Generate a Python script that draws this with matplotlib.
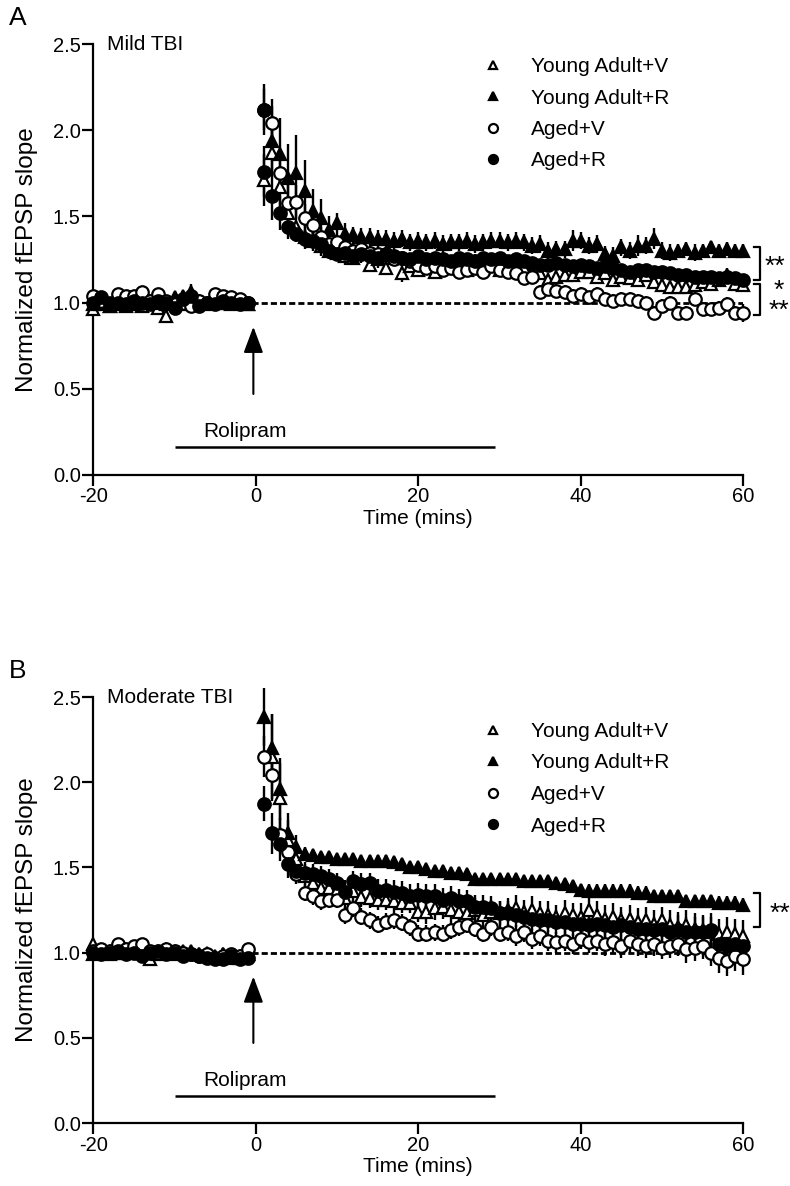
import matplotlib
matplotlib.use("Agg")
import matplotlib.pyplot as plt
from matplotlib.lines import Line2D

plt.rcParams["font.family"] = ["Liberation Sans", "DejaVu Sans"]
plt.rcParams["axes.unicode_minus"] = False

nan = float("nan")

# sampling times (min); baseline then post-tetanus
t_base = list(range(-20, 0))
t_post = list(range(1, 61))
t_all = t_base + t_post

labels = ["Young Adult+V", "Young Adult+R", "Aged+V", "Aged+R"]

# ---------------- Panel A: mild TBI ----------------
a_yav = [0.96, 0.99, 0.98, 0.99, 0.98, 0.99, 0.98, 1.00, 0.97, 0.92,
         1.00, 0.99, 1.01, 1.00, 0.99, 1.00, 1.00, 0.99, 1.00, 0.99,
         1.71, 1.87, 1.67, 1.52, 1.44, 1.38, 1.36, 1.33, 1.30, 1.29,
         1.27, 1.26, 1.28, 1.22, 1.25, 1.20, 1.26, 1.17, 1.21, 1.19,
         1.22, 1.18, 1.22, 1.20, 1.21, 1.19, 1.23, 1.20, 1.22, 1.19,
         1.21, 1.24, 1.20, 1.18, 1.17, 1.13, 1.15, 1.16, 1.16, 1.18,
         1.18, 1.15, 1.17, 1.13, 1.15, 1.14, 1.13, 1.16, 1.12, 1.10,
         1.09, 1.09, 1.09, 1.10, 1.12, 1.11, 1.13, 1.16, 1.11, 1.10]
a_yar = [0.99, 1.00, 0.98, 0.99, 1.00, 0.99, 1.00, 1.01, 1.00, 0.99,
         1.03, 1.04, 1.06, 1.01, 1.00, 1.02, 1.03, 1.02, 1.00, 0.99,
         nan, 1.94, 1.86, 1.72, 1.75, 1.65, 1.53, 1.49, 1.42, 1.46,
         1.40, 1.39, 1.38, 1.38, 1.37, 1.37, 1.36, 1.37, 1.35, 1.36,
         1.35, 1.36, 1.34, 1.35, 1.35, 1.36, 1.34, 1.35, 1.36, 1.36,
         1.35, 1.36, 1.35, 1.33, 1.34, 1.30, 1.31, 1.31, 1.36, 1.36,
         1.33, 1.34, 1.28, 1.27, 1.32, 1.30, 1.33, 1.33, 1.37, 1.30,
         1.29, 1.30, 1.31, 1.29, 1.30, 1.32, 1.30, 1.31, 1.30, 1.30]
a_agv = [1.04, 1.01, 1.00, 1.05, 1.04, 1.04, 1.06, 1.01, 1.05, 1.01,
         0.99, 1.00, 0.98, 1.01, 1.00, 1.05, 1.04, 1.03, 1.02, 1.00,
         2.12, 2.04, 1.75, 1.58, 1.585, 1.49, 1.45, 1.38, 1.34, 1.35,
         1.32, 1.30, 1.31, 1.29, 1.28, 1.28, 1.25, 1.26, 1.24, 1.22,
         1.20, 1.21, 1.19, 1.20, 1.18, 1.19, 1.20, 1.18, 1.21, 1.19,
         1.18, 1.17, 1.14, 1.15, 1.06, 1.08, 1.07, 1.06, 1.04, 1.05,
         1.03, 1.05, 1.02, 1.01, 1.02, 1.02, 1.01, 1.00, 0.94, 0.98,
         1.00, 0.94, 0.94, 1.02, 0.96, 0.96, 0.97, 0.99, 0.94, 0.94]
# Aged+R has two points plotted at t = 1
a_t_agr = t_base + [1] + t_post
a_agr = [1.00, 1.03, 0.99, 1.00, 0.99, 1.01, 1.00, 0.99, 1.01, 1.00,
         0.97, 1.02, 1.04, 0.98, 1.00, 0.99, 1.01, 1.00, 0.99, 1.00,
         2.12,
         1.76, 1.62, 1.52, 1.44, 1.40, 1.37, 1.36, 1.34, 1.30, 1.28,
         1.29, 1.27, 1.28, 1.27, 1.26, 1.28, 1.27, 1.26, 1.25, 1.27,
         1.25, 1.26, 1.25, 1.24, 1.26, 1.25, 1.24, 1.26, 1.25, 1.26,
         1.24, 1.25, 1.24, 1.23, 1.22, 1.22, 1.23, 1.22, 1.21, 1.22,
         1.21, 1.20, 1.21, 1.20, 1.19, 1.18, 1.19, 1.19, 1.18, 1.18,
         1.17, 1.16, 1.16, 1.15, 1.15, 1.15, 1.14, 1.15, 1.14, 1.13]

a_yav_err = [0.03, 0.02, 0.02, 0.03, 0.02, 0.02, 0.03, 0.02, 0.03, 0.04,
             0.02, 0.02, 0.03, 0.02, 0.02, 0.02, 0.03, 0.02, 0.02, 0.02,
             0.15, 0.14, 0.12, 0.10, 0.09, 0.07, 0.06, 0.06, 0.05, 0.05,
             0.05, 0.04, 0.05, 0.04, 0.05, 0.04, 0.05, 0.05, 0.04, 0.04,
             0.04, 0.04, 0.05, 0.04, 0.04, 0.04, 0.05, 0.04, 0.04, 0.04,
             0.04, 0.05, 0.04, 0.04, 0.04, 0.04, 0.04, 0.04, 0.04, 0.04,
             0.04, 0.04, 0.04, 0.04, 0.04, 0.04, 0.04, 0.04, 0.03, 0.03,
             0.03, 0.03, 0.03, 0.03, 0.03, 0.04, 0.03, 0.04, 0.03, 0.03]
a_yar_err = [0.02, 0.02, 0.02, 0.02, 0.02, 0.02, 0.02, 0.03, 0.02, 0.02,
             0.03, 0.03, 0.05, 0.03, 0.02, 0.03, 0.03, 0.02, 0.02, 0.02,
             0.00, 0.20, 0.21, 0.20, 0.22, 0.18, 0.13, 0.11, 0.08, 0.06,
             0.06, 0.05, 0.05, 0.05, 0.05, 0.05, 0.05, 0.05, 0.05, 0.05,
             0.05, 0.05, 0.05, 0.05, 0.05, 0.05, 0.05, 0.05, 0.05, 0.05,
             0.05, 0.05, 0.05, 0.05, 0.05, 0.05, 0.05, 0.05, 0.06, 0.05,
             0.05, 0.05, 0.05, 0.05, 0.05, 0.05, 0.06, 0.05, 0.06, 0.05,
             0.05, 0.04, 0.04, 0.05, 0.04, 0.04, 0.04, 0.04, 0.04, 0.04]
a_agv_err = [0.02, 0.02, 0.02, 0.02, 0.02, 0.02, 0.02, 0.02, 0.02, 0.02,
             0.02, 0.02, 0.03, 0.02, 0.02, 0.02, 0.02, 0.02, 0.02, 0.02,
             0.12, 0.14, 0.12, 0.10, 0.10, 0.08, 0.07, 0.06, 0.05, 0.05,
             0.05, 0.04, 0.04, 0.04, 0.04, 0.04, 0.04, 0.04, 0.04, 0.04,
             0.04, 0.04, 0.04, 0.04, 0.04, 0.04, 0.04, 0.04, 0.04, 0.04,
             0.04, 0.04, 0.04, 0.04, 0.04, 0.04, 0.04, 0.04, 0.04, 0.04,
             0.04, 0.04, 0.04, 0.04, 0.04, 0.04, 0.04, 0.04, 0.04, 0.04,
             0.04, 0.04, 0.04, 0.04, 0.04, 0.04, 0.04, 0.04, 0.04, 0.05]
a_agr_err = [0.02, 0.02, 0.02, 0.02, 0.02, 0.02, 0.02, 0.02, 0.02, 0.02,
             0.04, 0.02, 0.02, 0.02, 0.02, 0.02, 0.02, 0.02, 0.02, 0.02,
             0.15,
             0.15, 0.14, 0.10, 0.07, 0.05, 0.05, 0.05, 0.05, 0.04, 0.04,
             0.04, 0.04, 0.04, 0.04, 0.04, 0.04, 0.03, 0.03, 0.03, 0.03,
             0.03, 0.03, 0.03, 0.03, 0.03, 0.03, 0.03, 0.03, 0.03, 0.03,
             0.03, 0.03, 0.03, 0.03, 0.03, 0.03, 0.03, 0.03, 0.03, 0.03,
             0.03, 0.03, 0.03, 0.03, 0.03, 0.03, 0.03, 0.03, 0.03, 0.03,
             0.03, 0.03, 0.03, 0.03, 0.03, 0.03, 0.03, 0.03, 0.03, 0.03]

# ---------------- Panel B: moderate TBI ----------------
b_yav = [1.05, 1.00, 1.01, 1.00, 1.02, 1.03, 1.00, 0.96, 1.01, 1.00,
         0.99, 1.01, 1.00, 0.99, 0.98, 0.97, 0.99, 0.98, 0.97, 0.99,
         nan, 2.15, 1.91, 1.66, 1.55, 1.45, 1.41, 1.38, 1.38, 1.37,
         1.32, 1.36, 1.325, 1.32, 1.31, 1.31, 1.30, 1.29, 1.29, 1.24,
         1.24, 1.26, 1.27, 1.25, 1.24, 1.23, 1.25, 1.22, 1.24, 1.23,
         1.25, 1.26, 1.24, 1.25, 1.23, 1.22, 1.21, 1.23, 1.22, 1.21,
         1.25, 1.22, 1.20, 1.21, 1.19, 1.20, 1.18, 1.19, 1.17, 1.19,
         1.16, 1.15, 1.16, 1.14, 1.13, 1.12, 1.11, 1.12, 1.11, 1.10]
b_yar = [0.99, 1.00, 0.99, 1.01, 1.00, 1.02, 1.01, 1.00, 0.99, 1.02,
         1.01, 1.00, 1.01, 0.99, 1.00, 0.98, 0.99, 0.97, 0.98, 0.99,
         2.38, 2.20, 1.96, 1.70, 1.62, 1.58, 1.57, 1.56, 1.56, 1.55,
         1.55, 1.55, 1.54, 1.54, 1.54, 1.54, 1.53, 1.52, 1.50, 1.50,
         1.49, 1.48, 1.48, 1.47, 1.47, 1.46, 1.43, 1.43, 1.43, 1.43,
         1.43, 1.43, 1.42, 1.42, 1.42, 1.42, 1.41, 1.40, 1.39, 1.37,
         1.36, 1.36, 1.36, 1.36, 1.36, 1.36, 1.35, 1.35, 1.33, 1.33,
         1.33, 1.33, 1.30, 1.30, 1.30, 1.30, 1.29, 1.29, 1.29, 1.28]
b_agv = [1.01, 1.02, 1.01, 1.05, 1.02, 1.04, 1.05, 1.01, 1.00, 1.02,
         1.01, 1.00, 0.99, 0.98, 0.99, 0.97, 0.98, 0.99, 0.98, 1.02,
         2.15, 2.04, 1.69, 1.59, 1.46, 1.35, 1.33, 1.30, 1.31, 1.31,
         1.22, 1.26, 1.21, 1.19, 1.165, 1.18, 1.19, 1.175, 1.15, 1.11,
         1.11, 1.12, 1.11, 1.13, 1.15, 1.165, 1.14, 1.11, 1.15, 1.11,
         1.12, 1.10, 1.12, 1.08, 1.10, 1.07, 1.06, 1.07, 1.05, 1.08,
         1.06, 1.07, 1.05, 1.06, 1.04, 1.07, 1.05, 1.04, 1.05, 1.03,
         1.04, 1.05, 1.02, 1.03, 1.04, 1.00, 0.97, 0.95, 0.98, 0.96]
b_agr = [1.00, 0.99, 1.00, 1.01, 0.99, 1.00, 0.98, 1.00, 1.01, 0.99,
         1.00, 0.98, 0.99, 0.98, 0.97, 0.96, 0.96, 0.98, 0.96, 0.97,
         1.875, 1.70, 1.64, 1.52, 1.48, 1.47, 1.46, 1.45, 1.43, 1.41,
         1.355, 1.42, 1.40, 1.41, 1.36, 1.37, 1.355, 1.35, 1.335, 1.34,
         1.33, 1.33, 1.31, 1.32, 1.305, 1.30, 1.27, 1.27, 1.26, 1.23,
         1.23, 1.22, 1.21, 1.20, 1.19, 1.19, 1.18, 1.18, 1.17, 1.17,
         1.16, 1.17, 1.16, 1.15, 1.16, 1.15, 1.14, 1.14, 1.13, 1.14,
         1.12, 1.13, 1.12, 1.12, 1.12, 1.13, 1.05, 1.04, 1.05, 1.04]

b_yav_err = [0.02, 0.02, 0.02, 0.02, 0.02, 0.02, 0.02, 0.02, 0.02, 0.02,
             0.02, 0.02, 0.02, 0.02, 0.02, 0.02, 0.02, 0.02, 0.02, 0.02,
             0.00, 0.25, 0.20, 0.12, 0.08, 0.07, 0.07, 0.06, 0.06, 0.06,
             0.06, 0.06, 0.06, 0.06, 0.06, 0.06, 0.06, 0.06, 0.06, 0.06,
             0.07, 0.07, 0.07, 0.07, 0.07, 0.07, 0.07, 0.07, 0.07, 0.07,
             0.07, 0.08, 0.07, 0.08, 0.07, 0.08, 0.07, 0.08, 0.07, 0.08,
             0.08, 0.08, 0.08, 0.08, 0.08, 0.08, 0.08, 0.08, 0.08, 0.08,
             0.09, 0.09, 0.09, 0.09, 0.09, 0.09, 0.09, 0.09, 0.09, 0.09]
b_yar_err = [0.02, 0.02, 0.02, 0.02, 0.02, 0.02, 0.02, 0.02, 0.02, 0.02,
             0.02, 0.02, 0.02, 0.02, 0.02, 0.02, 0.02, 0.02, 0.02, 0.02,
             0.17, 0.20, 0.18, 0.12, 0.07, 0.04, 0.03, 0.03, 0.03, 0.03,
             0.03, 0.03, 0.03, 0.03, 0.03, 0.03, 0.03, 0.03, 0.03, 0.03,
             0.03, 0.03, 0.03, 0.03, 0.03, 0.03, 0.03, 0.03, 0.03, 0.03,
             0.03, 0.03, 0.03, 0.03, 0.03, 0.03, 0.03, 0.03, 0.03, 0.03,
             0.04, 0.04, 0.04, 0.04, 0.04, 0.04, 0.04, 0.04, 0.04, 0.04,
             0.04, 0.04, 0.04, 0.04, 0.04, 0.04, 0.04, 0.04, 0.04, 0.04]
b_agv_err = [0.02, 0.02, 0.02, 0.02, 0.02, 0.02, 0.02, 0.02, 0.02, 0.02,
             0.02, 0.02, 0.02, 0.02, 0.02, 0.02, 0.02, 0.02, 0.02, 0.02,
             0.12, 0.15, 0.10, 0.08, 0.06, 0.05, 0.05, 0.05, 0.05, 0.05,
             0.05, 0.05, 0.05, 0.05, 0.05, 0.05, 0.05, 0.05, 0.05, 0.05,
             0.05, 0.05, 0.05, 0.05, 0.05, 0.05, 0.05, 0.05, 0.05, 0.05,
             0.05, 0.06, 0.06, 0.06, 0.06, 0.06, 0.06, 0.06, 0.06, 0.06,
             0.06, 0.06, 0.07, 0.07, 0.07, 0.07, 0.07, 0.07, 0.07, 0.07,
             0.07, 0.07, 0.08, 0.08, 0.08, 0.08, 0.09, 0.09, 0.09, 0.09]
b_agr_err = [0.02, 0.02, 0.02, 0.02, 0.02, 0.02, 0.02, 0.02, 0.02, 0.02,
             0.02, 0.02, 0.02, 0.02, 0.02, 0.02, 0.02, 0.02, 0.02, 0.02,
             0.10, 0.12, 0.10, 0.08, 0.06, 0.06, 0.06, 0.06, 0.06, 0.06,
             0.07, 0.06, 0.07, 0.06, 0.07, 0.06, 0.07, 0.07, 0.07, 0.07,
             0.07, 0.07, 0.07, 0.07, 0.07, 0.07, 0.07, 0.07, 0.07, 0.07,
             0.07, 0.07, 0.07, 0.07, 0.07, 0.07, 0.07, 0.07, 0.07, 0.07,
             0.08, 0.08, 0.08, 0.08, 0.08, 0.08, 0.08, 0.08, 0.08, 0.08,
             0.09, 0.09, 0.09, 0.09, 0.09, 0.10, 0.10, 0.10, 0.10, 0.10]

marker_style = [("^", "white", 8.5), ("^", "black", 8.5), ("o", "white", 9), ("o", "black", 9)]


def draw_panel(ax, series, letter, title, leg_top):
    for t, y, e in series:
        ax.errorbar(t, y, yerr=e, fmt="none", ecolor="black", elinewidth=1.7,
                    capsize=0, zorder=2, clip_on=False)
    for (t, y, e), (m, fc, ms) in zip(series, marker_style):
        ax.plot(t, y, linestyle="none", marker=m, ms=ms, mfc=fc, mec="black",
                mew=1.6, zorder=3, clip_on=False)

    # baseline reference
    ax.hlines(1.0, -0.5, 60, colors="black", linestyles=(0, (2.2, 1.1)), lw=2.0, zorder=1)

    ax.set_xlim(-20, 60)
    ax.set_ylim(0, 2.5)
    ax.set_xticks([-20, 0, 20, 40, 60])
    ax.set_yticks([0.0, 0.5, 1.0, 1.5, 2.0, 2.5])
    ax.set_yticklabels(["0.0", "0.5", "1.0", "1.5", "2.0", "2.5"])
    for s in ["top", "right"]:
        ax.spines[s].set_visible(False)
    for s in ["left", "bottom"]:
        ax.spines[s].set_linewidth(1.6)
    ax.tick_params(direction="out", length=8, width=1.6, labelsize=14.5, pad=1)
    ax.set_xlabel("Time (mins)", fontsize=15, labelpad=2)
    ax.set_ylabel("Normalized fEPSP slope", fontsize=17.5, labelpad=11)

    ax.text(-18.3, 2.5, title, fontsize=15, va="center", ha="left")
    ax.text(-0.13, 1.06, letter, transform=ax.transAxes, fontsize=19, ha="left", va="center")

    # rolipram application
    ax.annotate("", xy=(-0.3, 0.86), xytext=(-0.3, 0.47),
                arrowprops=dict(arrowstyle="-|>,head_length=0.8,head_width=0.3",
                                lw=1.5, color="black", mutation_scale=20, shrinkA=0, shrinkB=0))
    ax.text(-1.3, 0.25, "Rolipram", fontsize=15, ha="center", va="center")
    ax.hlines(0.16, -10, 29.5, colors="black", lw=1.8)

    handles = [Line2D([], [], linestyle="none", marker=m, ms=ms, mfc=fc, mec="black", mew=1.6)
               for m, fc, ms in marker_style]
    fig.legend(handles, labels, loc="upper left", bbox_to_anchor=(483 / 790, 1 - leg_top / 1186),
               frameon=False, fontsize=15, markerscale=0.72, handlelength=1.0,
               handletextpad=1.3, labelspacing=0.6, borderpad=0, borderaxespad=0)


def bracket(ax, y_top, y_bot):
    ax.plot([61.3, 62.1, 62.1, 61.3], [y_top, y_top, y_bot, y_bot], color="black",
            lw=1.6, clip_on=False)


fig = plt.figure(figsize=(7.9, 11.86), dpi=100)
axA = fig.add_axes([0.1181, 0.5995, 0.8228, 0.3634])
axB = fig.add_axes([0.1181, 0.0531, 0.8228, 0.3592])

draw_panel(axA, [(t_all, a_yav, a_yav_err), (t_all, a_yar, a_yar_err),
                 (t_all, a_agv, a_agv_err), (a_t_agr, a_agr, a_agr_err)],
           "A", "Mild TBI", 57)
bracket(axA, a_yar[-1] + 0.02, a_agr[-1])
bracket(axA, a_agr[-1] - 0.02, a_agv[-1] - 0.01)
axA.text(62.6, (a_yar[-1] + a_agr[-1]) / 2 - 0.01, "**", fontsize=19, ha="left", va="center", clip_on=False)
axA.text(64.4, 1.01, "*\n**", fontsize=19, ha="center", va="center", multialignment="center",
         linespacing=0.75, clip_on=False)

draw_panel(axB, [(t_all, b_yav, b_yav_err), (t_all, b_yar, b_yar_err),
                 (t_all, b_agv, b_agv_err), (t_all, b_agr, b_agr_err)],
           "B", "Moderate TBI", 722)
bracket(axB, b_yar[-1] + 0.07, b_agr[-1] + 0.11)
axB.text(63.2, 1.23, "**", fontsize=19, ha="left", va="center", clip_on=False)

fig.savefig("out.png", dpi=100)
